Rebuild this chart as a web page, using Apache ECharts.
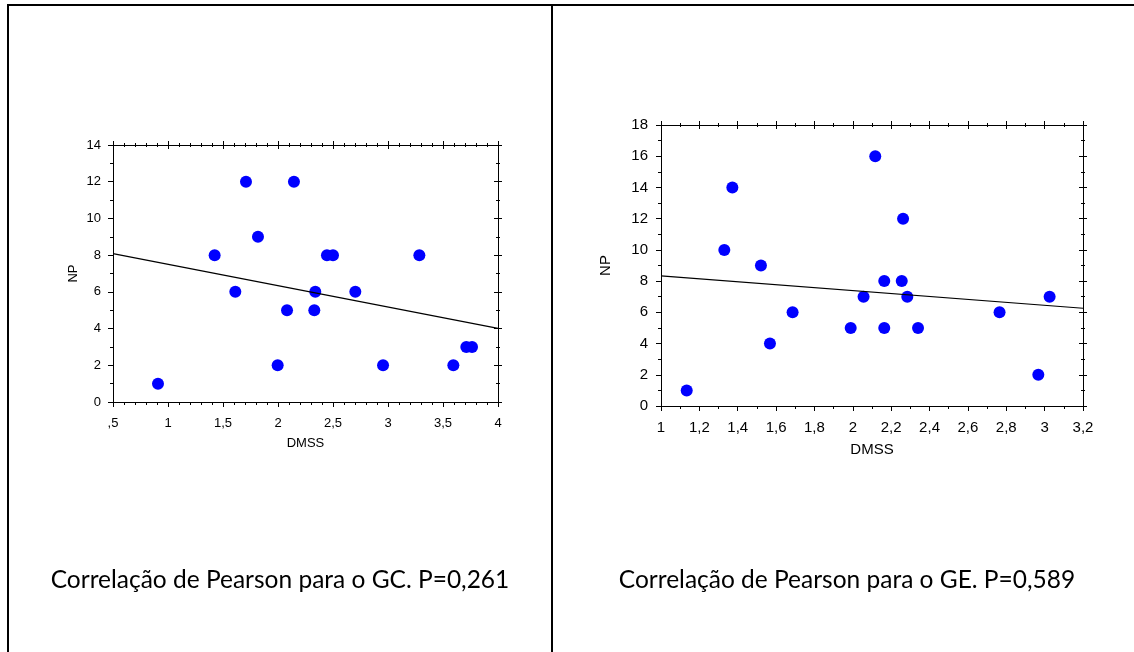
<!DOCTYPE html>
<html><head><meta charset="utf-8">
<script src="https://cdn.jsdelivr.net/npm/echarts@6/dist/echarts.min.js"></script>
<style>html,body{margin:0;padding:0;background:#fff}#c{width:1134px;height:652px}</style>
</head><body><div id="c"></div>
<script>
// Left panel (GC)
const gcDmss = [0.909,1.424,1.612,1.709,1.818,1.997,2.082,2.145,2.330,2.339,2.445,2.500,2.703,2.955,3.285,3.594,3.712,3.764];
const gcNp   = [1,8,6,12,9,2,5,12,5,6,8,8,6,2,8,2,3,3];
const gcFitX = [0.5,4];
const gcFitY = [8.08,4.01];
const gcCaption = 'Correlação de Pearson para o GC. P=0,261';
// Right panel (GE)
const geDmss = [1.134,1.330,1.372,1.521,1.568,1.686,1.989,2.056,2.117,2.164,2.164,2.255,2.262,2.284,2.340,2.765,2.967,3.026];
const geNp   = [1,10,14,9,4,6,5,7,16,8,5,8,12,7,5,6,2,7];
const geFitX = [1,3.2];
const geFitY = [8.34,6.26];
const geCaption = 'Correlação de Pearson para o GE. P=0,589';
const xName = 'DMSS', yName = 'NP';

const fmt = v => { let s = String(+(+v).toFixed(2)).replace('.', ','); if (s.startsWith('0,')) s = s.slice(1); return s; };
const FONT = 'Liberation Sans';

function axesFor(gi, xr, yr, fs, nameGapX, nameGapY, xSplit, ySplit, mx, my) {
  const xs = [], ys = [];
  const common = {gridIndex: gi, splitLine:{show:false}, axisLine:{onZero:false, lineStyle:{color:'#000',width:1}}};
  xs.push(Object.assign({}, common, {type:'value', position:'bottom', min:xr[0], max:xr[1], interval:xr[2],
    name:xName, nameLocation:'middle', nameGap:nameGapX, nameTextStyle:{fontFamily:FONT,fontSize:fs,color:'#000'},
    axisLabel:{formatter:fmt, fontFamily:FONT, fontSize:fs, color:'#000', margin:mx},
    axisTick:{show:true, length:5, lineStyle:{color:'#000'}},
    minorTick:{show:true, splitNumber:xSplit, length:3, lineStyle:{color:'#000'}}}));
  for (const inside of [true,false]) {
    xs.push(Object.assign({}, common, {type:'value', position:'top', min:xr[0], max:xr[1], interval:xr[2],
      axisLabel:{show:false}, axisTick:{show:true, inside:inside, length:4, lineStyle:{color:'#000'}},
      minorTick:{show:true, splitNumber:xSplit, length:2, lineStyle:{color:'#000'}}}));
  }
  ys.push(Object.assign({}, common, {type:'value', position:'left', min:yr[0], max:yr[1], interval:yr[2],
    name:yName, nameLocation:'middle', nameGap:nameGapY, nameRotate:90, nameTextStyle:{fontFamily:FONT,fontSize:fs,color:'#000'},
    axisLabel:{formatter:fmt, fontFamily:FONT, fontSize:fs, color:'#000', margin:my},
    axisTick:{show:true, length:5, lineStyle:{color:'#000'}},
    minorTick:{show:true, splitNumber:ySplit, length:3, lineStyle:{color:'#000'}}}));
  for (const inside of [true,false]) {
    ys.push(Object.assign({}, common, {type:'value', position:'right', min:yr[0], max:yr[1], interval:yr[2],
      axisLabel:{show:false}, axisTick:{show:true, inside:inside, length:4, lineStyle:{color:'#000'}},
      minorTick:{show:true, splitNumber:ySplit, length:2, lineStyle:{color:'#000'}}}));
  }
  return {xs, ys};
}

const a0 = axesFor(0, [0.5,4,0.5], [0,14,2], 13, 35, 33, 5, 2, 15, 12);
const a1 = axesFor(1, [1,3.2,0.2], [0,18,2], 15, 36, 48, 2, 2, 14, 13);

const chart = echarts.init(document.getElementById('c'), null, {renderer:'canvas'});
chart.setOption({
  animation:false,
  backgroundColor:'#fff',
  grid:[
    {left:113, right:636, top:145, bottom:250, show:false},
    {left:661, right:51, top:125, bottom:246, show:false}
  ],
  xAxis: a0.xs.concat(a1.xs),
  yAxis: a0.ys.concat(a1.ys),
  title:[
    {text:gcCaption, left:275, top:563, textAlign:'center', textStyle:{fontFamily:'Lato', fontSize:24.5, fontWeight:'normal', color:'#000'}},
    {text:geCaption, left:842, top:563, textAlign:'center', textStyle:{fontFamily:'Lato', fontSize:24.5, fontWeight:'normal', color:'#000'}}
  ],
  graphic:[
    {type:'line', shape:{x1:7, y1:5, x2:1134, y2:5}, style:{stroke:'#000', lineWidth:2}},
    {type:'line', shape:{x1:8, y1:4, x2:8, y2:652}, style:{stroke:'#000', lineWidth:2}},
    {type:'line', shape:{x1:552, y1:4, x2:552, y2:652}, style:{stroke:'#000', lineWidth:2}}
  ],
  series:[
    {type:'line', xAxisIndex:0, yAxisIndex:0, data:gcFitX.map((x,i)=>[x,gcFitY[i]]), showSymbol:false, lineStyle:{color:'#000',width:1.2}, silent:true},
    {type:'scatter', xAxisIndex:0, yAxisIndex:0, data:gcDmss.map((x,i)=>[x,gcNp[i]]), symbolSize:12, itemStyle:{color:'#0000ff',opacity:1}},
    {type:'line', xAxisIndex:3, yAxisIndex:3, data:geFitX.map((x,i)=>[x,geFitY[i]]), showSymbol:false, lineStyle:{color:'#000',width:1.2}, silent:true},
    {type:'scatter', xAxisIndex:3, yAxisIndex:3, data:geDmss.map((x,i)=>[x,geNp[i]]), symbolSize:12, itemStyle:{color:'#0000ff',opacity:1}}
  ]
});
</script></body></html>
